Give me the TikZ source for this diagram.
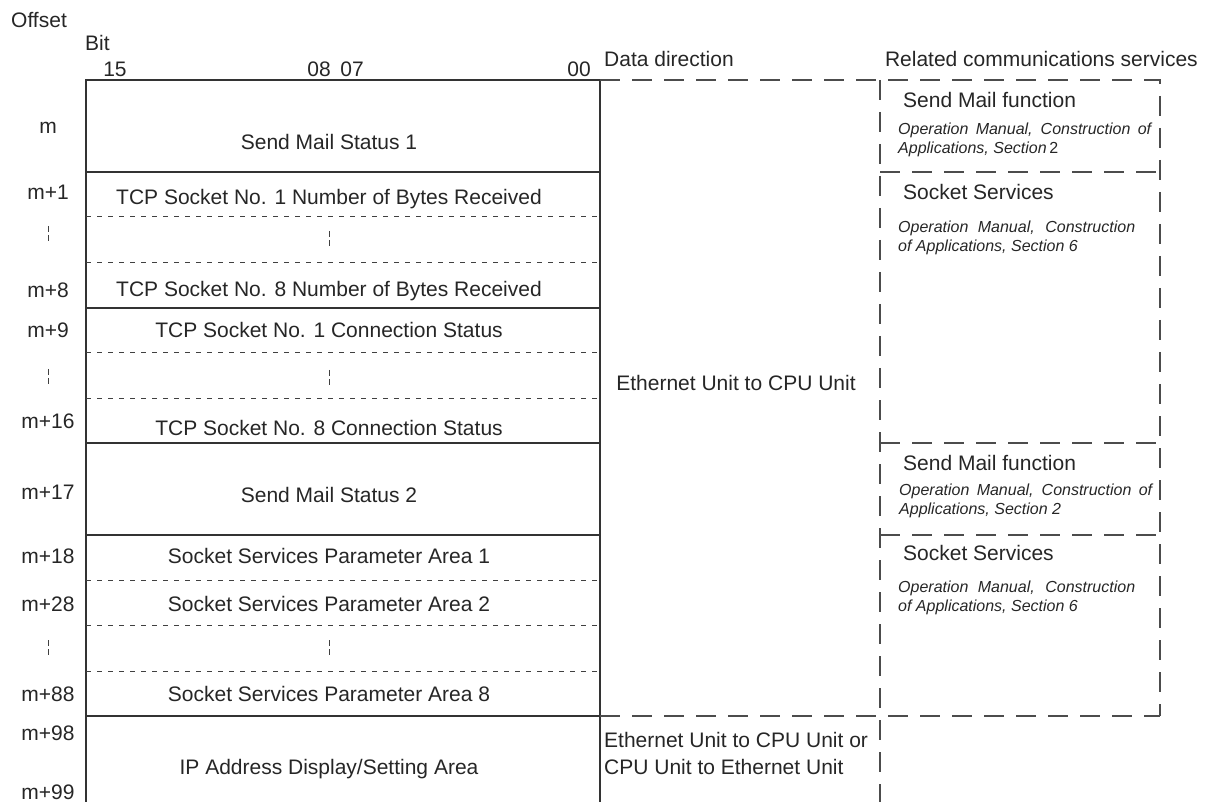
\documentclass[tikz,border=0pt]{standalone}
\usepackage{fontspec}
\setmainfont{Liberation Sans}
\begin{document}
\begin{tikzpicture}[x=1pt,y=-1pt,
  lbl/.style={font=\fontsize{21}{25}\selectfont, inner sep=0pt, anchor=base, text=black!85},
  lblw/.style={lbl, anchor=base west},
  refl/.style={font=\fontsize{16}{19}\selectfont\itshape, inner sep=0pt, anchor=base west, text=black!85},
  solidline/.style={line width=1.2pt, draw=black!80},
  fineDash/.style={line width=0.9pt, draw=black!75, dash pattern=on 5pt off 6pt},
  bigDash/.style={line width=1.3pt, draw=black!70, dash pattern=on 20pt off 12pt},
  vmark/.style={line width=0.9pt, draw=black!75, dash pattern=on 6pt off 3pt}]
\useasboundingbox (0,0) rectangle (1208,802);

% ---------- header ----------
\node[lblw] (hoff) at (11,27.5) {Offset};
\node[lblw] (hbit) at (85,50.5) {Bit};
\node[lbl] (b15) at (115,76.5) {15};
\node[lbl] (b08) at (319,76.5) {08};
\node[lbl] (b07) at (352,76.5) {07};
\node[lbl] (b00) at (579,76.5) {00};
\node[lblw] (hdir) at (604,66.5) {Data direction};
\node[lbl, anchor=base east] (hrel) at (1198,66.5) {Related communications services};

% ---------- table frame ----------
\draw[solidline] (86,802) -- (86,80) -- (600,80) -- (600,802);
\foreach \yy in {172,308,443,535,716} \draw[solidline] (86,\yy) -- (600,\yy);
\foreach \yy in {216,262,352,398,580,625,671} \draw[fineDash] (86,\yy) -- (600,\yy);

% continuation marks
\foreach \yy in {226,369,640} \draw[vmark] (48,\yy) -- ++(0,15);
\foreach \yy in {231,370,640} \draw[vmark] (329,\yy) -- ++(0,15);

% ---------- offsets ----------
\node[lbl] (om)   at (48,133.5) {m};
\node[lbl] (om1)  at (48,199.5) {m+1};
\node[lbl] (om8)  at (48,297.5) {m+8};
\node[lbl] (om9)  at (48,337.5) {m+9};
\node[lbl] (om16) at (48,428.5) {m+16};
\node[lbl] (om17) at (48,499.5) {m+17};
\node[lbl] (om18) at (48,563.5) {m+18};
\node[lbl] (om28) at (48,611.5) {m+28};
\node[lbl] (om88) at (48,701.5) {m+88};
\node[lbl] (om98) at (48,740.5) {m+98};
\node[lbl] (om99) at (48,799.5) {m+99};

% ---------- words ----------
\node[lbl] (w1)  at (329,149.5) {Send Mail Status 1};
\node[lbl] (w2)  at (329,205)   {TCP Socket No. 1 Number of Bytes Received};
\node[lbl] (w3)  at (329,296.5) {TCP Socket No. 8 Number of Bytes Received};
\node[lbl] (w4)  at (329,337.5) {TCP Socket No. 1 Connection Status};
\node[lbl] (w5)  at (329,435.5) {TCP Socket No. 8 Connection Status};
\node[lbl] (w6)  at (329,502.5) {Send Mail Status 2};
\node[lbl] (w7)  at (329,563.5) {Socket Services Parameter Area 1};
\node[lbl] (w8)  at (329,611.5) {Socket Services Parameter Area 2};
\node[lbl] (w9)  at (329,701.5) {Socket Services Parameter Area 8};
\node[lbl] (w10) at (329,774.5) {IP Address Display/Setting Area};

% ---------- data direction ----------
\node[lbl] (d1) at (736,390.5) {Ethernet Unit to CPU Unit};
\node[lblw] (d2) at (604,747.5) {Ethernet Unit to CPU Unit or};
\node[lblw] (d3) at (604,774.5) {CPU Unit to Ethernet Unit};

% ---------- related services ----------
\draw[bigDash] (600,80) -- (1160,80) -- (1160,716);
\draw[bigDash] (600,716) -- (1160,716);
\draw[bigDash] (880,80) -- (880,802);
\foreach \yy in {172,443,535} \draw[bigDash] (880,\yy) -- (1160,\yy);

\node[lblw] (s1) at (903,107.5) {Send Mail function};
\node[refl] (s1a) at (898,134.7) {\makebox[253pt][s]{Operation Manual, Construction of}};
\node[refl] (s1b) at (898,153.7) {Applications, Section\,{\upshape 2}};

\node[lblw] (s2) at (903,199.5) {Socket Services};
\node[refl] (s2a) at (898,232.7) {\makebox[237pt][s]{Operation Manual, Construction}};
\node[refl] (s2b) at (898,251.7) {of Applications, Section 6};

\node[lblw] (s3) at (903,470.5) {Send Mail function};
\node[refl] (s3a) at (899,495.7) {\makebox[253pt][s]{Operation Manual, Construction of}};
\node[refl] (s3b) at (899,514.7) {Applications, Section 2};

\node[lblw] (s4) at (903,560.5) {Socket Services};
\node[refl] (s4a) at (898,592.7) {\makebox[237pt][s]{Operation Manual, Construction}};
\node[refl] (s4b) at (898,611.7) {of Applications, Section 6};
\end{tikzpicture}
\end{document}
